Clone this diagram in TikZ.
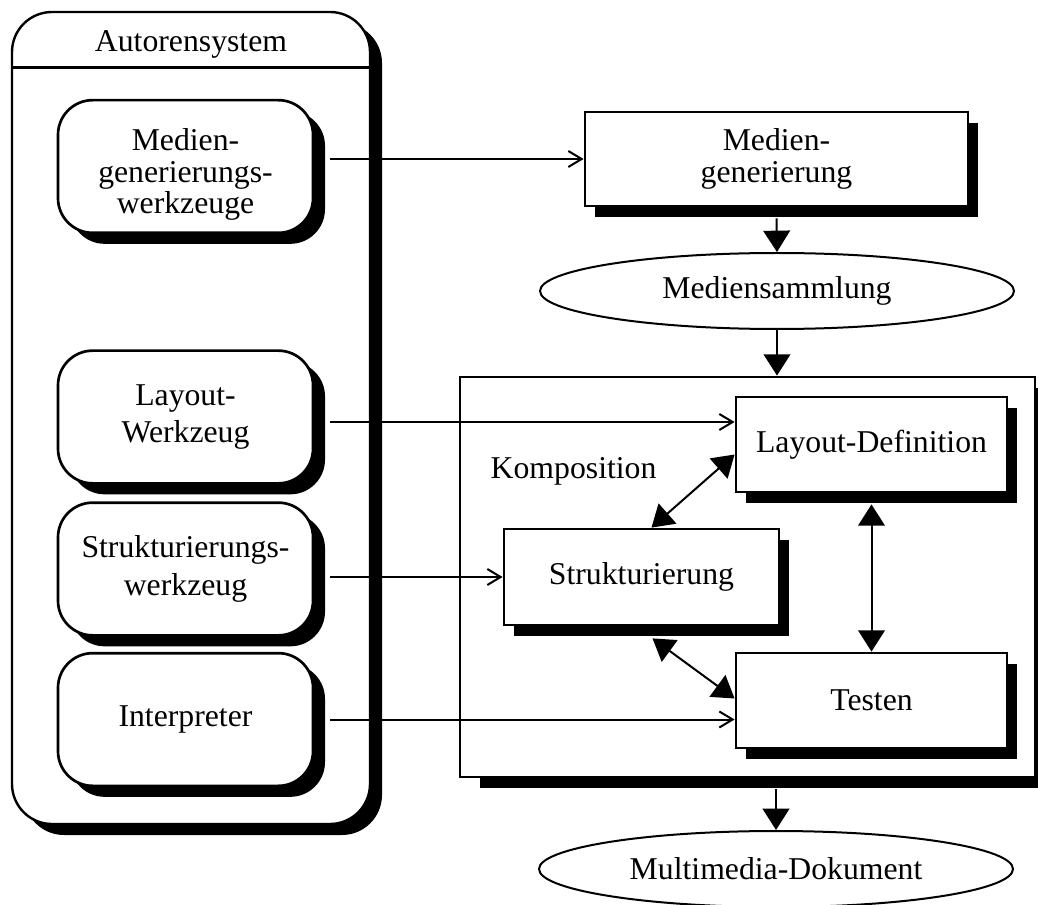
\documentclass[tikz,border=0pt]{standalone}
\usepackage{fontspec}
\setmainfont{Liberation Serif}
\usetikzlibrary{arrows.meta,shapes.geometric,shadows,calc}
\begin{document}
\begin{tikzpicture}[x=0.75pt,y=-0.75pt,
  every node/.style={font=\fontsize{23.8}{24}\selectfont, align=center},
  shbig/.style={drop shadow={shadow xshift=9pt, shadow yshift=-8.25pt, fill=black, opacity=1}},
  shsmall/.style={drop shadow={shadow xshift=7.5pt, shadow yshift=-8.25pt, fill=black, opacity=1}},
  shkomp/.style={drop shadow={shadow xshift=15pt, shadow yshift=-8.25pt, fill=black, opacity=1}},
  outerbox/.style={draw, line width=1.8pt, fill=white, rounded corners=30pt, inner sep=0pt, shbig},
  tool/.style={draw, line width=2pt, fill=white, rounded corners=26pt, inner sep=0pt, shbig,
    minimum width=191.25pt, minimum height=99.5pt},
  box/.style={draw, line width=2.1pt, fill=white, inner sep=0pt, shsmall},
  kompbox/.style={draw, line width=2.1pt, fill=white, inner sep=0pt, shkomp},
  oval/.style={draw, ellipse, line width=1.5pt, fill=white, inner sep=0pt, minimum width=355.5pt, minimum height=57pt},
  conn/.style={line width=1.5pt, -{Straight Barb[length=10pt,width=12pt,line width=1.5pt]}},
  big/.style={line width=1.5pt, -{Triangle[length=16pt,width=20pt]}},
  dbl/.style={line width=1.5pt, {Triangle[length=16pt,width=20pt]}-{Triangle[length=16pt,width=20pt]}}]
\useasboundingbox (0,0) rectangle (1038,905);

% Autorensystem
\node[outerbox, minimum width=268.5pt, minimum height=609pt] (autor) at (191,418) {};
\node[anchor=base] (autortitle) at (191,52) {Autorensystem};
\draw[line width=2.2pt] ($(autor.north west)+(0,57)$) -- ($(autor.north east)+(0,57)$);

\node[tool] (mw) at (185.5,166.5) {};
\node[font=\fontsize{23.8}{23.5}\selectfont, inner sep=0pt] (mwtext) at ($(mw.center)+(0,8)$) {Medien-\\generierungs-\\werkzeuge};
\node[tool, font=\fontsize{23.8}{28}\selectfont] (lw) at (185.5,417) {Layout-\\Werkzeug};
\node[tool, font=\fontsize{23.8}{28}\selectfont] (sw) at (185.5,569) {Strukturierungs-\\werkzeug};
\node[tool] (ip) at (185.5,719.5) {Interpreter};

% right side
\node[box, minimum width=287.25pt, minimum height=70.5pt, font=\fontsize{23.8}{24}\selectfont] (mg) at (776.5,159) {Medien-\\generierung};
\node[oval] (ms) at (777,291) {Mediensammlung};

\node[kompbox, minimum width=431.25pt, minimum height=300pt] (komp) at (747.5,577) {};
\node[anchor=base west] (komplabel) at (486,478) {Komposition};

\node[box, minimum width=203.25pt, minimum height=71.25pt] (ld) at (871.5,444.5) {Layout-Definition};
\node[box, minimum width=206.25pt, minimum height=72pt] (st) at (641.5,577) {Strukturierung};
\node[box, minimum width=203.25pt, minimum height=71.25pt] (te) at (871.5,700.5) {Testen};

\node[oval] (md) at (776,869) {Multimedia-Dokument};

% connectors from tools
\coordinate (a1) at ($(mw.east)+(16,0)$);
\coordinate (a2) at ($(lw.east)+(16,5)$);
\coordinate (a3) at ($(sw.east)+(16,0)$);
\coordinate (a4) at ($(ip.east)+(16,0)$);
\draw[conn] (mg.west -| a1) -- (mg.west);
\draw[conn] (a2) -- (a2 -| ld.west);
\draw[conn] (st.west -| a3) -- (st.west);
\draw[conn] (a4) -- (a4 -| te.west);

% flow
\draw[big] ($(mg.south)+(0,11)$) -- (ms.north);
\draw[big] (ms.south) -- (ms.south |- komp.north);
\draw[big] ($(md.north |- komp.south)+(0,11)$) -- (md.north);

\draw[dbl] ($(st.north)+(10,0)$) -- ($(ld.west)+(0,10)$);
\draw[dbl] ($(ld.south)+(0,11)$) -- (te.north);
\draw[dbl] ($(st.south)+(11,12)$) -- ($(te.west)+(0,-2)$);
\end{tikzpicture}
\end{document}
